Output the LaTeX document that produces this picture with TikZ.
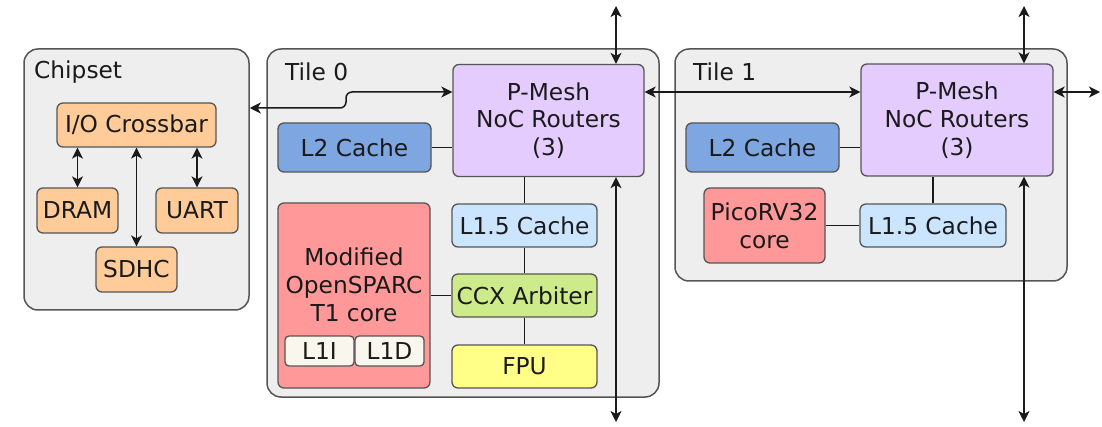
\documentclass[tikz,border=0pt]{standalone}
\usepackage{fontspec}
\setmainfont{DejaVu Sans}
\usetikzlibrary{arrows.meta}
\definecolor{boxline}{HTML}{555555}
\definecolor{tilefill}{HTML}{EEEEEE}
\definecolor{iofill}{HTML}{FFCC99}
\definecolor{ltwofill}{HTML}{7EA6E0}
\definecolor{routerfill}{HTML}{E5CCFF}
\definecolor{lonefivefill}{HTML}{CCE5FF}
\definecolor{ccxfill}{HTML}{CDEB8B}
\definecolor{fpufill}{HTML}{FFFF88}
\definecolor{corefill}{HTML}{FF9999}
\definecolor{lonefill}{HTML}{F9F7ED}
\definecolor{wire}{HTML}{1A1A1A}
\tikzset{
  x={(1pt,0)}, y={(0,-1pt)},
  txt/.style={font=\fontsize{23.3}{27.8}\selectfont, text=wire},
  container/.style={draw=boxline, fill=tilefill, line width=1.5pt, rounded corners=14pt, inner sep=0pt},
  blk/.style={txt, draw=boxline, line width=1.3pt, rounded corners=6pt, inner sep=0pt, align=center},
  title/.style={txt, anchor=west, inner sep=0pt},
  link/.style={draw=wire, line width=1.5pt},
  bi/.style={link, {Stealth[length=11pt,width=11pt,inset=3pt]}-{Stealth[length=11pt,width=11pt,inset=3pt]}},
}
\begin{document}
\begin{tikzpicture}
\useasboundingbox (0,0) rectangle (1102,427);

% ---------------- Chipset ----------------
\node[container, minimum width=225pt, minimum height=261pt] (chip) at (136.5,179.5) {};
\node[title] (chiptitle) at (34,72) {Chipset};
\node[blk, fill=iofill, minimum width=159pt, minimum height=44pt] (xbar) at (136.5,125) {I/O Crossbar};
\node[blk, fill=iofill, minimum width=81pt, minimum height=45pt] (dram) at (77.5,210.5) {DRAM};
\node[blk, fill=iofill, minimum width=82pt, minimum height=45pt] (uart) at (197,210.5) {UART};
\node[blk, fill=iofill, minimum width=81pt, minimum height=45pt] (sdhc) at (136.5,269.5) {SDHC};
\draw[bi] (dram.north |- xbar.south) -- (dram.north);
\draw[bi] (uart.north |- xbar.south) -- (uart.north);
\draw[bi] (sdhc.north |- xbar.south) -- (sdhc.north);

% ---------------- Tile 0 ----------------
\node[container, minimum width=392pt, minimum height=348pt] (tile0) at (463,223) {};
\node[title] (tile0title) at (285,72) {Tile 0};
\node[blk, fill=routerfill, minimum width=191pt, minimum height=112pt] (rt0) at (548.5,120.5) {P-Mesh\\NoC Routers\\(3)};
\node[blk, fill=ltwofill, minimum width=153pt, minimum height=49pt] (ltwoa) at (354.5,147.5) {L2 Cache};
\node[blk, fill=corefill, minimum width=152pt, minimum height=185pt] (core) at (354,295.5) {};
\node[txt, align=center, inner sep=0pt] (coretext) at (354,285) {Modified\\OpenSPARC\\T1 core};
\node[blk, fill=lonefill, minimum width=69pt, minimum height=30pt, rounded corners=4pt] (loi) at (319.5,351) {L1I};
\node[blk, fill=lonefill, minimum width=69pt, minimum height=30pt, rounded corners=4pt] (lod) at (389.5,351) {L1D};
\node[blk, fill=lonefivefill, minimum width=145pt, minimum height=43pt] (lfa) at (524.5,225.5) {L1.5 Cache};
\node[blk, fill=ccxfill, minimum width=145pt, minimum height=43pt] (ccx) at (524.5,295.5) {CCX Arbiter};
\node[blk, fill=fpufill, minimum width=145pt, minimum height=43pt] (fpu) at (524.5,366.5) {FPU};

\draw[link] (ltwoa.east) -- (ltwoa.east -| rt0.west);
\draw[link] (lfa.north) -- (lfa.north |- rt0.south);
\draw[link] (lfa.south) -- (ccx.north);
\draw[link] (ccx.south) -- (fpu.north);
\draw[link] (core.east |- ccx.west) -- (ccx.west);

% ---------------- Tile 1 ----------------
\node[container, minimum width=392pt, minimum height=232pt] (tile1) at (871,165) {};
\node[title] (tile1title) at (693,72) {Tile 1};
\node[blk, fill=routerfill, minimum width=192pt, minimum height=112pt] (rt1) at (957,120) {P-Mesh\\NoC Routers\\(3)};
\node[blk, fill=ltwofill, minimum width=153pt, minimum height=49pt] (ltwob) at (762.5,147.5) {L2 Cache};
\node[blk, fill=corefill, minimum width=121pt, minimum height=75pt] (pico) at (764.5,225.5) {PicoRV32\\core};
\node[blk, fill=lonefivefill, minimum width=146pt, minimum height=43pt] (lfb) at (933,225.5) {L1.5 Cache};

\draw[link] (ltwob.east) -- (ltwob.east -| rt1.west);
\draw[link] (lfb.north) -- (lfb.north |- rt1.south);
\draw[link] (pico.east) -- (pico.east -| lfb.west);

% ---------------- Mesh links ----------------
\coordinate (meshrow) at (0,92);
\coordinate (chiprow) at (0,108);
\coordinate (jog) at (346,100);
\coordinate (topzero) at (616,6);
\coordinate (botzero) at (616,422);
\coordinate (topone) at (1024,6);
\coordinate (botone) at (1024,422);
\coordinate (eastend) at (1100,92);

\draw[bi, rounded corners=6pt] (chip.east |- chiprow) -- (jog |- chiprow) -- (jog |- meshrow) -- (rt0.west |- meshrow);
\draw[bi] (rt0.east |- meshrow) -- (rt1.west |- meshrow);
\draw[bi] (rt1.east |- meshrow) -- (eastend);
\draw[bi] (topzero) -- (topzero |- rt0.north);
\draw[bi] (rt0.south -| botzero) -- (botzero);
\draw[bi] (topone) -- (topone |- rt1.north);
\draw[bi] (rt1.south -| botone) -- (botone);
\end{tikzpicture}
\end{document}
